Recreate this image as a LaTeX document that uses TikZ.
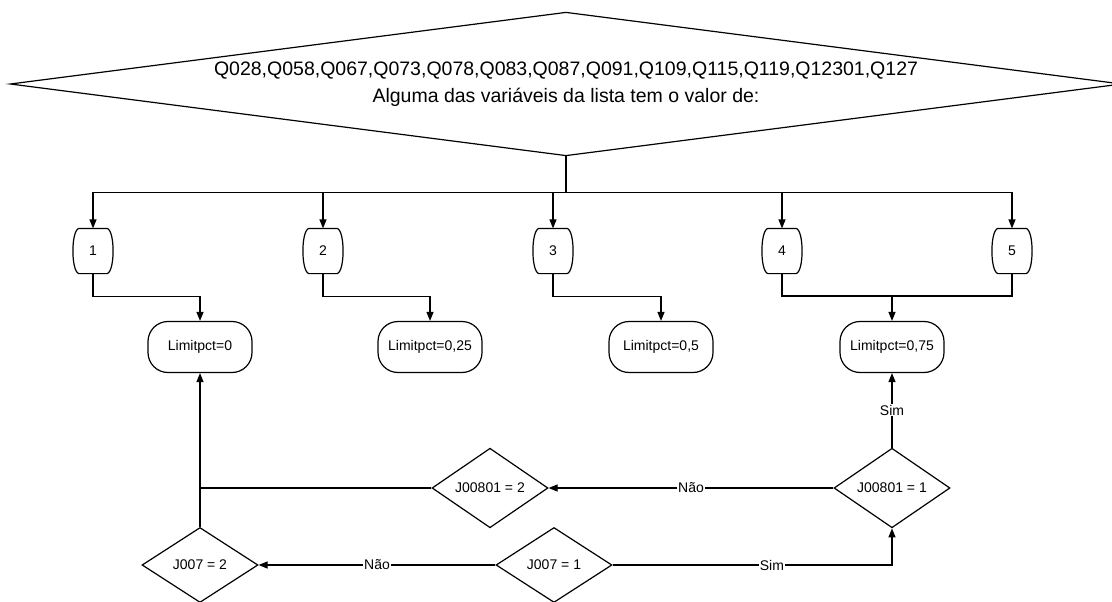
\documentclass[tikz,border=0pt]{standalone}
\usepackage{fontspec}
\setmainfont{Liberation Sans}
\usetikzlibrary{shapes.geometric,arrows.meta}
\begin{document}
\begin{tikzpicture}[x=1pt,y=-1pt,
  line width=1.2pt,
  every node/.style={font=\fontsize{14}{16}\selectfont},
  arr/.style={-{Triangle[length=9pt,width=7pt]}},
  decision/.style={draw,diamond,inner sep=0pt,minimum width=116pt,minimum height=75pt},
  numbox/.style={inner sep=0pt,minimum width=37pt,minimum height=44pt},
  limitbox/.style={draw,rounded corners=20pt,inner sep=0pt,minimum width=104pt,minimum height=51pt},
  lbl/.style={fill=white,inner sep=1pt}]
\useasboundingbox (0,0) rectangle (1112,602);

% main question: a wide, flat rhombus drawn through the node's anchors
\node[inner sep=0pt,minimum width=1110pt,minimum height=142pt,align=center,
      font=\fontsize{19.5}{27}\selectfont] (top) at (566,84)
  {Q028,Q058,Q067,Q073,Q078,Q083,Q087,Q091,Q109,Q115,Q119,Q12301,Q127\\
   Alguma das variáveis da lista tem o valor de:};
\draw (top.north) -- (top.east) -- (top.south) -- (top.west) -- cycle;

% answer values
\node[numbox] (n1) at (93,251) {1};
\node[numbox] (n2) at (323,251) {2};
\node[numbox] (n3) at (553,251) {3};
\node[numbox] (n4) at (782,251) {4};
\node[numbox] (n5) at (1012,251) {5};
\foreach \n in {n1,n2,n3,n4,n5}{
  \draw ([xshift=5pt]\n.north west) -- ([xshift=-5pt]\n.north east)
    .. controls ([xshift=3pt,yshift=-2pt]\n.north east) and ([xshift=3pt,yshift=2pt]\n.south east) .. ([xshift=-5pt]\n.south east)
    -- ([xshift=5pt]\n.south west)
    .. controls ([xshift=-3pt,yshift=2pt]\n.south west) and ([xshift=-3pt,yshift=-2pt]\n.north west) .. cycle;
}

% results
\node[limitbox] (L0) at (200,347) {Limitpct=0};
\node[limitbox] (L25) at (430,347) {Limitpct=0,25};
\node[limitbox] (L5) at (661,347) {Limitpct=0,5};
\node[limitbox] (L75) at (892,347) {Limitpct=0,75};

% checks on J007 / J00801
\node[decision] (K1) at (892,488) {J00801 = 1};
\node[decision] (K2) at (490,488) {J00801 = 2};
\node[decision] (J1) at (554,565) {J007 = 1};
\node[decision] (J2) at (200,565) {J007 = 2};

% fan-out from the question
\draw (top.south) -- ++(0,37) coordinate (bus);
\foreach \n in {n1,n2,n3,n4,n5}{ \draw[arr] (bus) -| (\n.north); }

% values to results
\draw[arr] (n1.south) -- ++(0,23) -| (L0.north);
\draw[arr] (n2.south) -- ++(0,23) -| (L25.north);
\draw[arr] (n3.south) -- ++(0,23) -| (L5.north);
\coordinate (m45) at (892,296);
\draw (n4.south) |- (m45) -| (n5.south);
\draw[arr] (m45) -- (L75.north);

% decision flow
\draw[arr] (J1.west) -- node[lbl]{Não} (J2.east);
\draw[arr] (J1.east) -| node[lbl,pos=0.285]{Sim} (K1.south);
\draw[arr] (K1.west) -- node[lbl]{Não} (K2.east);
\draw[arr] (K1.north) -- node[lbl]{Sim} (L75.south);
\draw (K2.west) -- (L0.south |- K2.west);
\draw[arr] (J2.north) -- (L0.south);
\end{tikzpicture}
\end{document}
